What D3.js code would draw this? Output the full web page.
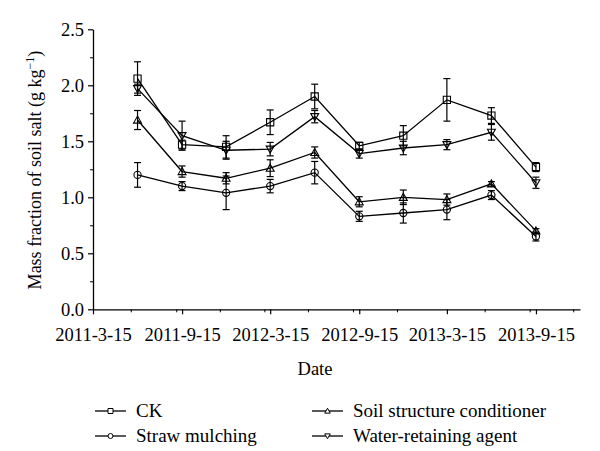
<!DOCTYPE html>
<html>
<head>
<meta charset="utf-8">
<script src="https://cdn.jsdelivr.net/npm/d3@7"></script>
<style>
  html, body { margin: 0; padding: 0; background: #fff; }
  svg { display: block; }
  text { font-family: "Liberation Serif", "DejaVu Serif", serif; fill: #000; }
</style>
</head>
<body>
<svg id="chart" width="600" height="451"></svg>
<script>
// ---- data ----
const dates = ["2011-6-15","2011-9-15","2011-12-15","2012-3-15","2012-6-15","2012-9-15","2012-12-15","2013-3-15","2013-6-15","2013-9-15"];
const ckValues  = [2.06, 1.47, 1.45, 1.67, 1.90, 1.46, 1.55, 1.87, 1.73, 1.27];
const ckErr     = [0.15, 0.04, 0.10, 0.11, 0.11, 0.03, 0.09, 0.19, 0.07, 0.04];
const smValues  = [1.20, 1.10, 1.04, 1.10, 1.22, 0.83, 0.86, 0.89, 1.02, 0.65];
const smErr     = [0.11, 0.04, 0.15, 0.06, 0.10, 0.045, 0.09, 0.09, 0.04, 0.04];
const sscValues = [1.69, 1.23, 1.17, 1.26, 1.40, 0.96, 1.00, 0.98, 1.12, 0.70];
const sscErr    = [0.085, 0.05, 0.05, 0.075, 0.05, 0.045, 0.065, 0.05, 0.02, 0.02];
const wraValues = [1.97, 1.55, 1.42, 1.43, 1.72, 1.39, 1.44, 1.47, 1.58, 1.13];
const wraErr    = [0.04, 0.13, 0.08, 0.06, 0.055, 0.04, 0.06, 0.045, 0.07, 0.05];
const seriesNames = ["CK", "Straw mulching", "Soil structure conditioner", "Water-retaining agent"];
const xTickLabels = ["2011-3-15","2011-9-15","2012-3-15","2012-9-15","2013-3-15","2013-9-15"];
const xMinorTicks = ["2011-6-1","2011-9-3","2011-12-2","2012-3-3","2012-6-1","2012-9-2","2012-12-2","2013-6-1","2013-9-2","2013-12-1"];
const xDomain = ["2011-3-15", "2013-12-15"];
const yTicks = [0.0, 0.5, 1.0, 1.5, 2.0, 2.5];
const yMinorTicks = [0.25, 0.75, 1.25, 1.75, 2.25];

// ---- setup ----
const parse = d3.timeParse("%Y-%m-%d");
const svg = d3.select("#chart");
const x = d3.scaleTime().domain(xDomain.map(parse)).range([93, 580]);
const y = d3.scaleLinear().domain([0, 2.5]).range([309.3, 29.3]);

const series = [
  { name: seriesNames[0], values: ckValues,  err: ckErr,  symbol: "square" },
  { name: seriesNames[1], values: smValues,  err: smErr,  symbol: "circle" },
  { name: seriesNames[2], values: sscValues, err: sscErr, symbol: "up" },
  { name: seriesNames[3], values: wraValues, err: wraErr, symbol: "down" }
];

function symbolPath(type, s) {
  if (type === "square") return `M${-s},${-s}H${s}V${s}H${-s}Z`;
  if (type === "circle") return `M${-s},0A${s},${s} 0 1,0 ${s},0A${s},${s} 0 1,0 ${-s},0Z`;
  if (type === "up") return `M0,${-s*1.1}L${s*1.1},${s*0.85}H${-s*1.1}Z`;
  if (type === "down") return `M0,${s*1.1}L${s*1.1},${-s*0.85}H${-s*1.1}Z`;
}

// ---- axes ----
const xAxis = d3.axisBottom(x)
  .tickValues(xTickLabels.map(parse))
  .tickFormat((d, i) => xTickLabels[i])
  .tickSize(5).tickSizeOuter(0).tickPadding(14);
const gx = svg.append("g").attr("transform", `translate(0,${y(0)})`).call(xAxis);
gx.selectAll("text").style("font-size", "18.5px");
gx.select(".domain").attr("stroke-width", 1.3);
gx.selectAll(".tick line").attr("stroke-width", 1.2);

const xMinor = d3.axisBottom(x).tickValues(xMinorTicks.map(parse)).tickFormat("").tickSize(3).tickSizeOuter(0);
const gxm = svg.append("g").attr("transform", `translate(0,${y(0)})`).call(xMinor);
gxm.select(".domain").remove();

const yAxis = d3.axisLeft(y).tickValues(yTicks).tickFormat(d3.format(".1f"))
  .tickSize(5).tickSizeOuter(0).tickPadding(4);
const gy = svg.append("g").attr("transform", `translate(93,0)`).call(yAxis);
gy.selectAll("text").style("font-size", "18.5px");
gy.select(".domain").attr("stroke-width", 1.3);
gy.selectAll(".tick line").attr("stroke-width", 1.2);

const yMinor = d3.axisLeft(y).tickValues(yMinorTicks).tickFormat("").tickSize(3).tickSizeOuter(0);
const gym = svg.append("g").attr("transform", `translate(93,0)`).call(yMinor);
gym.select(".domain").remove();

// axis titles
svg.append("text").attr("x", 315).attr("y", 375).attr("text-anchor", "middle")
  .style("font-size", "18.5px").text("Date");

const yt = svg.append("text").attr("transform", "translate(41,170) rotate(-90)")
  .attr("text-anchor", "middle").style("font-size", "18px");
yt.append("tspan").text("Mass fraction of soil salt (g kg");
yt.append("tspan").attr("dy", -7).style("font-size", "12px").text("\u22121");
yt.append("tspan").attr("dy", 7).text(")");

// ---- series ----
const line = d3.line().x((d, i) => x(parse(dates[i]))).y(d => y(d));
const plot = svg.append("g");
series.forEach(s => {
  plot.append("path").attr("d", line(s.values)).attr("fill", "none")
    .attr("stroke", "#000").attr("stroke-width", 1.3);
});
series.forEach(s => {
  const g = plot.append("g").attr("stroke", "#000").attr("stroke-width", 1.2);
  s.values.forEach((v, i) => {
    const cx = x(parse(dates[i]));
    const e = s.err[i];
    g.append("line").attr("x1", cx).attr("x2", cx).attr("y1", y(v + e)).attr("y2", y(v - e));
    g.append("line").attr("x1", cx - 3.5).attr("x2", cx + 3.5).attr("y1", y(v + e)).attr("y2", y(v + e));
    g.append("line").attr("x1", cx - 3.5).attr("x2", cx + 3.5).attr("y1", y(v - e)).attr("y2", y(v - e));
  });
});
series.forEach(s => {
  plot.append("g").selectAll("path").data(s.values).join("path")
    .attr("transform", (d, i) => `translate(${x(parse(dates[i]))},${y(d)})`)
    .attr("d", symbolPath(s.symbol, 3.6))
    .attr("fill", "none").attr("stroke", "#000").attr("stroke-width", 1.1);
});

// ---- legend ----
const legendPos = [[95, 411], [95, 436], [312, 411], [312, 436]];
series.forEach((s, i) => {
  const [lx, ly] = legendPos[i];
  const g = svg.append("g").attr("transform", `translate(${lx},${ly})`);
  g.append("line").attr("x1", 0).attr("x2", 31).attr("y1", 0).attr("y2", 0)
    .attr("stroke", "#000").attr("stroke-width", 1.3);
  g.append("path").attr("transform", "translate(15.5,0)").attr("d", symbolPath(s.symbol, 2.5))
    .attr("fill", "#fff").attr("stroke", "#000").attr("stroke-width", 1);
  g.append("text").attr("x", 41).attr("y", 0).attr("dy", "0.33em")
    .style("font-size", "19px").text(s.name);
});
</script>
</body>
</html>
